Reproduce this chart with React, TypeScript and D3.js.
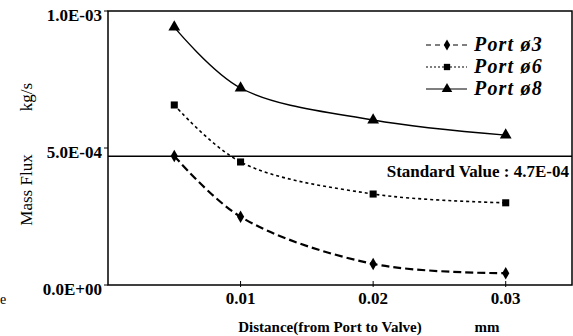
import { useEffect, useRef } from "react";
import * as d3 from "d3";

// distances in mm
const distances = [0.005, 0.01, 0.02, 0.03];
const port3 = [4.71e-4, 2.49e-4, 0.77e-4, 0.43e-4];
const port6 = [6.57e-4, 4.49e-4, 3.32e-4, 3.0e-4];
const port8 = [9.41e-4, 7.19e-4, 6.02e-4, 5.47e-4];
const seriesNames = ["Port ø3", "Port ø6", "Port ø8"];
const xTicks = [0.01, 0.02, 0.03];
const yTicks = [0, 5e-4, 1e-3];
const yTickLabels = ["0.0E+00", "5.0E-04", "1.0E-03"];
const standardValue = 4.7e-4;

const W = 573;
const H = 336;

export default function App() {
  const svgRef = useRef<SVGSVGElement>(null);

  useEffect(() => {
    if (!svgRef.current) return;
    const svg = d3.select(svgRef.current);
    svg.selectAll("*").remove();

    const margin = { top: 11, right: 1, bottom: 51, left: 108 };
    const x = d3.scaleLinear().domain([0, 0.035]).range([margin.left, W - margin.right]);
    const y = d3.scaleLinear().domain([0, 1e-3]).range([H - margin.bottom, margin.top]);
    const font = "Liberation Serif, serif";

    svg.append("rect").attr("width", W).attr("height", H).attr("fill", "#fff");

    // frame
    svg.append("rect")
      .attr("x", x(0)).attr("y", y(1e-3))
      .attr("width", x(0.035) - x(0)).attr("height", y(0) - y(1e-3))
      .attr("fill", "none").attr("stroke", "#000").attr("stroke-width", 1.5);

    // y ticks + labels
    yTicks.forEach((t, i) => {
      svg.append("line")
        .attr("x1", x(0) - 4).attr("x2", x(0))
        .attr("y1", y(t)).attr("y2", y(t))
        .attr("stroke", "#000");
      svg.append("text")
        .attr("x", x(0) - 6).attr("y", y(t) + 10)
        .attr("text-anchor", "end")
        .style("font-family", font).attr("font-weight", "bold").attr("font-size", 17)
        .text(yTickLabels[i]);
    });

    // x ticks + labels
    xTicks.forEach((t) => {
      svg.append("line")
        .attr("x1", x(t)).attr("x2", x(t))
        .attr("y1", y(0) + 2).attr("y2", y(0) - 4)
        .attr("stroke", "#000");
      svg.append("text")
        .attr("x", x(t)).attr("y", y(0) + 19)
        .attr("text-anchor", "middle")
        .style("font-family", font).attr("font-weight", "bold").attr("font-size", 17)
        .text(d3.format(".2f")(t));
    });

    // axis titles
    svg.append("text")
      .attr("transform", "translate(32,190) rotate(-90)")
      .attr("text-anchor", "middle")
      .style("font-family", font).attr("font-size", 17)
      .text("Mass Flux");
    svg.append("text")
      .attr("transform", "translate(32,97) rotate(-90)")
      .attr("text-anchor", "middle")
      .style("font-family", font).attr("font-size", 17)
      .text("kg/s");
    svg.append("text")
      .attr("x", 330).attr("y", 332)
      .attr("text-anchor", "middle")
      .style("font-family", font).attr("font-weight", "bold").attr("font-size", 15)
      .text("Distance(from Port to Valve)");
    svg.append("text")
      .attr("x", 487).attr("y", 332)
      .attr("text-anchor", "middle")
      .style("font-family", font).attr("font-weight", "bold").attr("font-size", 15)
      .text("mm");
    svg.append("text")
      .attr("x", 0).attr("y", 304)
      .style("font-family", font).attr("font-size", 14)
      .text("e");

    // standard value line
    svg.append("line")
      .attr("x1", x(0)).attr("x2", x(0.035))
      .attr("y1", y(standardValue)).attr("y2", y(standardValue))
      .attr("stroke", "#000").attr("stroke-width", 1.5);
    svg.append("text")
      .attr("x", 569).attr("y", y(standardValue) + 21)
      .attr("text-anchor", "end")
      .style("font-family", font).attr("font-weight", "bold").attr("font-size", 17)
      .text("Standard Value : 4.7E-04");

    const line = d3.line<number>()
      .x((_, i) => x(distances[i]))
      .y((d) => y(d))
      .curve(d3.curveCatmullRom);

    const series = [
      { values: port3, dash: "8,4", width: 2.2, marker: d3.symbolDiamond, size: 45 },
      { values: port6, dash: "3,3", width: 1.6, marker: d3.symbolSquare, size: 50 },
      { values: port8, dash: null, width: 1.4, marker: d3.symbolTriangle, size: 60 },
    ];

    series.forEach((s) => {
      svg.append("path")
        .datum(s.values)
        .attr("fill", "none")
        .attr("stroke", "#000")
        .attr("stroke-width", s.width)
        .attr("stroke-dasharray", s.dash)
        .attr("d", line);
      svg.selectAll(null)
        .data(s.values)
        .join("path")
        .attr("transform", (d, i) => `translate(${x(distances[i])},${y(d)})`)
        .attr("d", d3.symbol().type(s.marker).size(s.size)())
        .attr("fill", "#000");
    });

    // legend
    const legendY = [45, 67, 89];
    series.forEach((s, i) => {
      const ly = legendY[i];
      svg.append("line")
        .attr("x1", 426).attr("x2", 467)
        .attr("y1", ly).attr("y2", ly)
        .attr("stroke", "#000")
        .attr("stroke-width", 1.2)
        .attr("stroke-dasharray", s.dash ? (i === 0 ? "5,4" : "2,2") : null);
      svg.append("path")
        .attr("transform", `translate(447,${ly})`)
        .attr("d", d3.symbol().type(s.marker).size(s.size * 0.8)())
        .attr("fill", "#000");
      svg.append("text")
        .attr("x", 474).attr("y", ly + 6)
        .style("font-family", font).attr("font-weight", "bold")
        .attr("font-style", "italic").attr("font-size", 20)
        .attr("letter-spacing", 1.2)
        .text(seriesNames[i]);
    });
  }, []);

  return (
    <svg
      ref={svgRef}
      width={W}
      height={H}
      style={{ position: "absolute", left: 0, top: 0, display: "block" }}
    />
  );
}
